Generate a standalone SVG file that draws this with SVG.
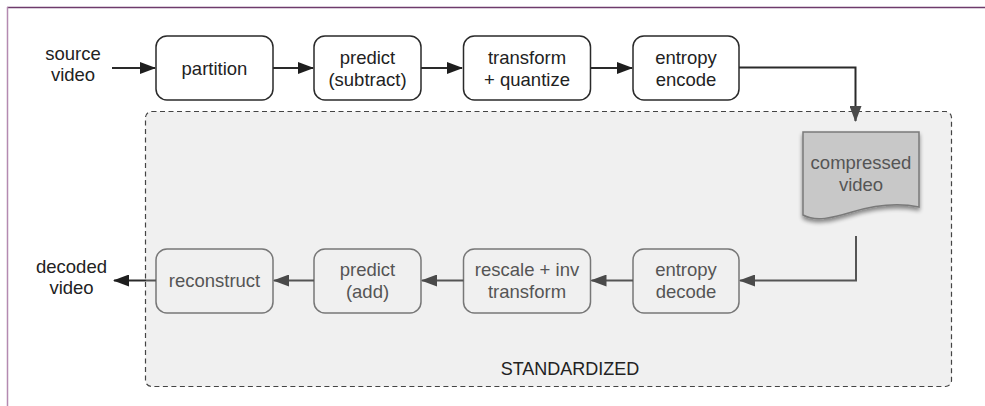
<svg xmlns="http://www.w3.org/2000/svg" width="985" height="406" viewBox="0 0 985 406">
  <style>
    text { font-family: "Liberation Sans", Arial, Helvetica, sans-serif; font-size: 18.5px; text-anchor: middle; }
    .enc rect { fill: #ffffff; stroke: #2a2a2a; stroke-width: 1.5; }
    .enc text { fill: #222222; }
    .dec rect { fill: #f0f0f0; stroke: #777777; stroke-width: 1.5; }
    .dec text { fill: #555555; }
    .lbl { fill: #222222; }
    .wire-dark { fill: none; stroke: #2a2a2a; stroke-width: 2; }
    .wire-grey { fill: none; stroke: #555555; stroke-width: 2; }
  </style>
  <defs>
    <marker id="ah-dark" viewBox="0 0 16 12" refX="15" refY="6" markerWidth="16" markerHeight="12" markerUnits="userSpaceOnUse" orient="auto">
      <path d="M0,0 L16,6 L0,12 Z" fill="#1e1e1e"/>
    </marker>
    <marker id="ah-grey" viewBox="0 0 16 12" refX="15" refY="6" markerWidth="16" markerHeight="12" markerUnits="userSpaceOnUse" orient="auto">
      <path d="M0,0 L16,6 L0,12 Z" fill="#4a4a4a"/>
    </marker>
    <filter id="doc-shadow" x="-20%" y="-20%" width="140%" height="140%">
      <feGaussianBlur in="SourceAlpha" stdDeviation="2"/>
      <feOffset dx="0" dy="3" result="b"/>
      <feComponentTransfer><feFuncA type="linear" slope="0.45"/></feComponentTransfer>
      <feMerge><feMergeNode/><feMergeNode in="SourceGraphic"/></feMerge>
    </filter>
  </defs>

  <rect width="985" height="406" fill="#ffffff"/>

  <!-- page frame: top and left rules -->
  <line x1="7" y1="7.5" x2="985" y2="7.5" stroke="#6e3b6b" stroke-width="1.5"/>
  <line x1="7.5" y1="7" x2="7.5" y2="406" stroke="#b48ab1" stroke-width="1.5"/>

  <!-- standardized (decoder) region -->
  <g id="standardized">
    <rect x="145.5" y="111.5" width="806" height="275" rx="6" fill="#f0f0f0" stroke="#444444" stroke-width="1.2" stroke-dasharray="5 3.5"/>
    <text class="lbl" x="570" y="374.5" style="font-size:18px">STANDARDIZED</text>
  </g>

  <!-- free labels -->
  <g id="source-video">
    <text class="lbl" x="73" y="60">source</text>
    <text class="lbl" x="73" y="81">video</text>
  </g>
  <g id="decoded-video">
    <text class="lbl" x="71.5" y="272.5">decoded</text>
    <text class="lbl" x="71.5" y="293.5">video</text>
  </g>

  <!-- encoder chain -->
  <g id="partition" class="enc">
    <rect x="156" y="36" width="117" height="64" rx="11"/>
    <text x="214.5" y="74.5">partition</text>
  </g>
  <g id="predict-subtract" class="enc">
    <rect x="314" y="36" width="107" height="64" rx="11"/>
    <text x="367.5" y="63.5">predict</text>
    <text x="367.5" y="85.5">(subtract)</text>
  </g>
  <g id="transform-quantize" class="enc">
    <rect x="463.5" y="36" width="127" height="64" rx="11"/>
    <text x="527" y="63.5">transform</text>
    <text x="527" y="85.5">+ quantize</text>
  </g>
  <g id="entropy-encode" class="enc">
    <rect x="633" y="36" width="106" height="64" rx="11"/>
    <text x="686" y="63.5">entropy</text>
    <text x="686" y="85.5">encode</text>
  </g>

  <!-- bitstream -->
  <g id="compressed-video">
    <path d="M803,132 H919 V207 C895,202 872,206 852,212 C832,218 816,222 803,215 Z" fill="#c8c8c8" stroke="#7a7a7a" stroke-width="1.5" filter="url(#doc-shadow)"/>
    <text x="861" y="169" fill="#555555">compressed</text>
    <text x="861" y="191" fill="#555555">video</text>
  </g>

  <!-- decoder chain -->
  <g id="reconstruct" class="dec">
    <rect x="156" y="249" width="117" height="64" rx="11"/>
    <text x="214.5" y="287">reconstruct</text>
  </g>
  <g id="predict-add" class="dec">
    <rect x="314" y="249" width="107" height="64" rx="11"/>
    <text x="367.5" y="276">predict</text>
    <text x="367.5" y="298">(add)</text>
  </g>
  <g id="rescale-inv-transform" class="dec">
    <rect x="463.5" y="249" width="127" height="64" rx="11"/>
    <text x="527" y="276">rescale + inv</text>
    <text x="527" y="298">transform</text>
  </g>
  <g id="entropy-decode" class="dec">
    <rect x="633" y="249" width="106" height="64" rx="11"/>
    <text x="686" y="276">entropy</text>
    <text x="686" y="298">decode</text>
  </g>

  <!-- connectors -->
  <g id="connectors">
    <path class="wire-dark" d="M112,68 H155" marker-end="url(#ah-dark)"/>
    <path class="wire-dark" d="M273,68 H313" marker-end="url(#ah-dark)"/>
    <path class="wire-dark" d="M421,68 H462" marker-end="url(#ah-dark)"/>
    <path class="wire-dark" d="M591,68 H632" marker-end="url(#ah-dark)"/>
    <path class="wire-dark" d="M739,67.5 H855.5 V121" marker-end="url(#ah-grey)"/>
    <path class="wire-grey" d="M856,236 V280.5 H740" marker-end="url(#ah-grey)"/>
    <path class="wire-grey" d="M633,280.5 H591.5" marker-end="url(#ah-grey)"/>
    <path class="wire-grey" d="M463.5,280.5 H422" marker-end="url(#ah-grey)"/>
    <path class="wire-grey" d="M314,280.5 H274" marker-end="url(#ah-grey)"/>
    <path class="wire-grey" d="M156,280.5 H146"/>
    <path class="wire-dark" d="M146,280.5 H114" marker-end="url(#ah-dark)"/>
  </g>
</svg>
